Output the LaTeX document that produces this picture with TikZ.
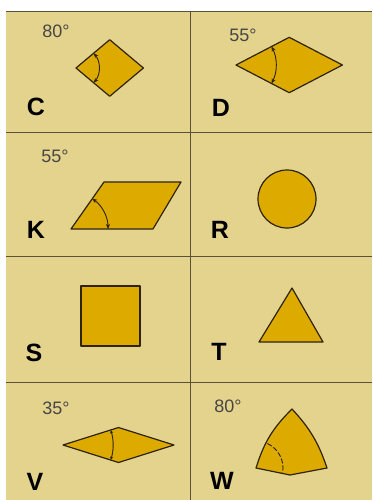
\documentclass[tikz,border=0pt]{standalone}
\usepackage{fontspec}
\setmainfont{Liberation Sans}
\usetikzlibrary{arrows.meta}
\definecolor{beige}{RGB}{228,211,140}
\definecolor{gold}{RGB}{221,170,0}
\definecolor{edgec}{RGB}{45,35,15}
\definecolor{rulec}{RGB}{90,82,55}
\definecolor{degc}{RGB}{70,70,70}
\begin{document}
\begin{tikzpicture}[x=1pt,y=-1pt,
  insert/.style={fill=gold,draw=edgec,line width=1.2pt,line join=round},
  letter/.style={font=\fontsize{25}{25}\selectfont\bfseries,text=black,inner sep=0pt},
  angletext/.style={font=\fontsize{18}{18}\selectfont,text=degc,inner sep=0pt},
  anglearc/.style={draw=edgec,line width=0.9pt,{Stealth[length=5pt,width=4pt]}-{Stealth[length=5pt,width=4pt]}},
  divider/.style={draw=rulec,line width=0.9pt}]
\useasboundingbox (0,0) rectangle (372,500);
\fill[white] (0,0) rectangle (372,500);
\fill[beige] (6,11) rectangle (372,500);
% grid
\draw[divider] (6,11) -- (372,11);
\draw[divider] (190,11) -- (190,500);
\draw[divider] (6,132) -- (372,132);
\draw[divider] (6,256) -- (372,256);
\draw[divider] (6,382) -- (372,382);
% C
\draw[insert] (76,68) -- ++(-40:44) -- ++(40:44) -- ++(140:44) -- cycle;
\draw[anglearc] (76,68) ++(-40:23) arc[start angle=-40,end angle=40,radius=23];
\node[angletext] (tc) at (56,31) {80°};
\node[letter] (lc) at (36,107) {C};
% D
\draw[insert] (236,65) -- ++(-27.5:60) -- ++(27.5:60) -- ++(152.5:60) -- cycle;
\draw[anglearc] (236,65) ++(-27.5:40) arc[start angle=-27.5,end angle=27.5,radius=40];
\node[angletext] (td) at (243,35) {55°};
\node[letter] (ld) at (221,108) {D};
% K
\draw[insert] (71,229) -- (104,182) -- (181,182) -- (153,229) -- cycle;
\draw[anglearc] (71,229) ++(-55:37) arc[start angle=-55,end angle=0,radius=37];
\node[angletext] (tk) at (55,156) {55°};
\node[letter] (lk) at (36,230) {K};
% R
\draw[insert] (287,199) circle[radius=29];
\node[letter] (lr) at (220,230) {R};
% S
\draw[insert] (81,286) rectangle (140,346);
\node[letter] (ls) at (34,353) {S};
% T
\draw[insert] (292,288) -- (323,342) -- (259,342) -- cycle;
\node[letter] (lt) at (219,352) {T};
% V
\draw[insert] (63,445) -- ++(-17.5:58.2) -- ++(17.5:58.2) -- ++(162.5:58.2) -- cycle;
\draw[draw=edgec,line width=0.9pt,{Stealth[length=3.5pt,width=3pt]}-{Stealth[length=3.5pt,width=3pt]}] (63,445) ++(-17.5:50) arc[start angle=-17.5,end angle=17.5,radius=50];
\node[angletext] (tv) at (56,408) {35°};
\node[letter] (lv) at (35,482) {V};
% W
\draw[insert] (256,468) to[bend left=14] (292,409) to[bend left=12] (327,468) -- (290,475) -- cycle;
\draw[draw=edgec,line width=0.9pt,dash pattern=on 5pt off 2pt] (256,468) ++(-65:27) arc[start angle=-65,end angle=10,radius=27];
\node[angletext] (tw) at (228,406) {80°};
\node[letter] (lw) at (222,481) {W};
\end{tikzpicture}
\end{document}
